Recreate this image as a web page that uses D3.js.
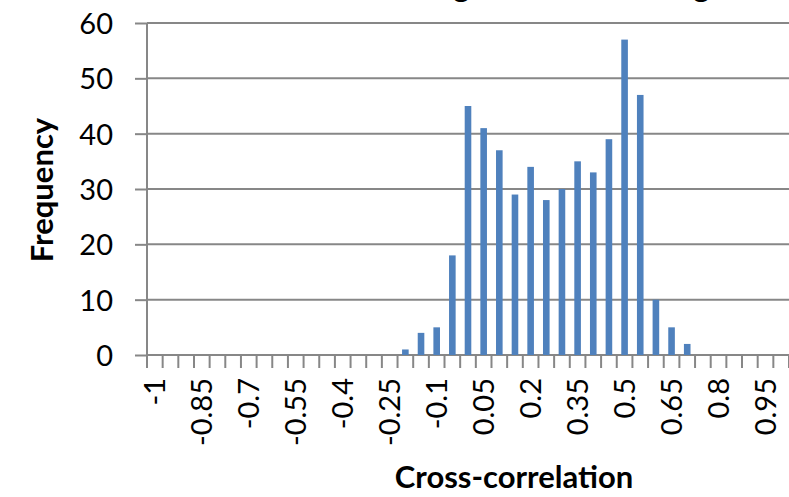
<!DOCTYPE html>
<html>
<head>
<meta charset="utf-8">
<script src="https://cdn.jsdelivr.net/npm/d3@7"></script>
<style>
  html, body { margin: 0; padding: 0; background: #fff; }
  svg { display: block; }
  text { font-family: Lato, "Open Sans", sans-serif; fill: #000; }
</style>
</head>
<body>
<svg id="chart" width="789" height="497"></svg>
<script>
// Bin labels (cross-correlation, -1 to 1 in 0.05 steps)
const categories = ["-1","-0.95","-0.9","-0.85","-0.8","-0.75","-0.7","-0.65","-0.6","-0.55","-0.5","-0.45","-0.4","-0.35","-0.3","-0.25","-0.2","-0.15","-0.1","-0.05","0","0.05","0.1","0.15","0.2","0.25","0.3","0.35","0.4","0.45","0.5","0.55","0.6","0.65","0.7","0.75","0.8","0.85","0.9","0.95","1"];
// Frequency per bin
const frequency = [0,0,0,0,0,0,0,0,0,0,0,0,0,0,0,0,1,4,5,18,45,41,37,29,34,28,30,35,33,39,57,47,10,5,2,0,0,0,0,0,0];
// Tick labels shown on x axis
const xTickLabels = ["-1","-0.85","-0.7","-0.55","-0.4","-0.25","-0.1","0.05","0.2","0.35","0.5","0.65","0.8","0.95"];
const yTicks = [0,10,20,30,40,50,60];
const titleParts = ["Cross-correlation of Timing", "in Training"];
const xTitle = "Cross-correlation";
const yTitle = "Frequency";

const svg = d3.select("#chart");
const mLeft = 147, mRight = 789, mTop = 23, mBottom = 355;

const x = d3.scaleBand().domain(categories).range([mLeft, mRight]).paddingInner(0).paddingOuter(0);
const y = d3.scaleLinear().domain([0, 60]).range([mBottom, mTop]);
const gridColor = "#878787";

// Title (cut off at top, only descenders visible)
svg.append("text").attr("x", 470).attr("y", -3).attr("text-anchor", "end")
  .style("font-weight", "bold").style("font-size", "32px").text(titleParts[0]);
svg.append("text").attr("x", 710).attr("y", -3).attr("text-anchor", "end")
  .style("font-weight", "bold").style("font-size", "32px").text(titleParts[1]);

// Gridlines + y axis
const yAxis = d3.axisLeft(y).tickValues(yTicks).tickSize(12).tickPadding(22).tickFormat(d3.format("d"));
const gy = svg.append("g").attr("transform", `translate(${mLeft},0)`).call(yAxis);
gy.select(".domain").remove();
gy.selectAll(".tick line").attr("stroke", gridColor).attr("stroke-width", 2);
gy.selectAll(".tick text").style("font-size", "29px").attr("fill", "#000").attr("dy", "0.36em");
svg.append("g").selectAll("line").data(yTicks).join("line")
  .attr("x1", mLeft).attr("x2", mRight)
  .attr("y1", d => y(d)).attr("y2", d => y(d))
  .attr("stroke", gridColor).attr("stroke-width", 2);

// Bars
const barW = 6.6;
svg.append("g").selectAll("rect").data(categories.map((c, i) => ({c, v: frequency[i]})).filter(d => d.v > 0)).join("rect")
  .attr("x", d => x(d.c) + x.bandwidth() / 2 - barW / 2)
  .attr("width", barW)
  .attr("y", d => y(d.v))
  .attr("height", d => y(0) - y(d.v))
  .attr("fill", "#4f81bd");

// Y axis vertical line
svg.append("line").attr("x1", mLeft).attr("x2", mLeft).attr("y1", mTop).attr("y2", mBottom + 13)
  .attr("stroke", gridColor).attr("stroke-width", 2);

// X axis ticks at category boundaries
const bounds = categories.map(c => x(c)).concat([x(categories[categories.length - 1]) + x.bandwidth()]);
svg.append("g").selectAll("line").data(bounds).join("line")
  .attr("x1", d => d).attr("x2", d => d).attr("y1", mBottom).attr("y2", mBottom + 13)
  .attr("stroke", gridColor).attr("stroke-width", 2);

// X tick labels
svg.append("g").selectAll("text").data(xTickLabels).join("text")
  .attr("transform", d => `translate(${x(d) + x.bandwidth() / 2},378) rotate(-90)`)
  .attr("text-anchor", "end").attr("dy", "0.36em")
  .style("font-size", "29px").text(d => d);

// Axis titles
svg.append("text").attr("x", 514).attr("y", 488).attr("text-anchor", "middle")
  .style("font-weight", "bold").style("font-size", "31px").text(xTitle);
svg.append("text").attr("transform", "translate(53,190) rotate(-90)").attr("text-anchor", "middle")
  .style("font-weight", "bold").style("font-size", "31px").text(yTitle);
</script>
</body>
</html>
